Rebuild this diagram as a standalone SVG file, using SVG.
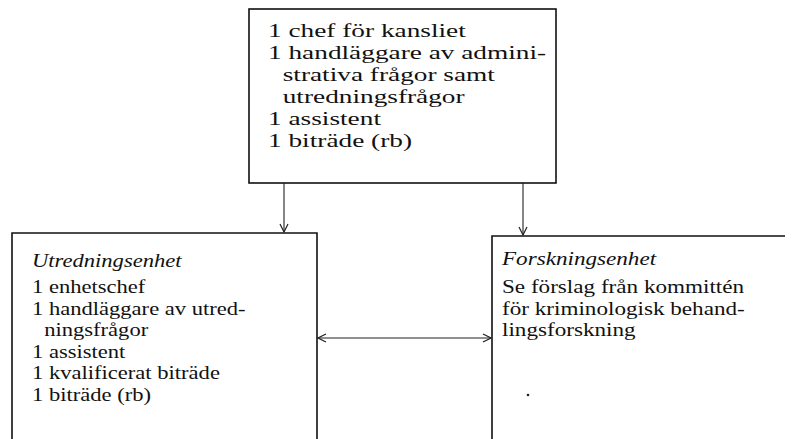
<svg xmlns="http://www.w3.org/2000/svg" width="794" height="439" viewBox="0 0 794 439">
<defs>
<style>
.box{fill:none;stroke:#111;stroke-width:1.6}
.con{fill:none;stroke:#222;stroke-width:1.1}
.t{font-family:"Liberation Serif","Times New Roman",serif;font-size:18.5px;fill:#111}
.tt{font-family:"Liberation Serif","Times New Roman",serif;font-size:19.5px;fill:#111}
.i{font-style:italic}
</style>
<marker id="ah" viewBox="0 0 10 10" refX="9" refY="5" markerWidth="10" markerHeight="10" markerUnits="userSpaceOnUse" orient="auto-start-reverse">
<path d="M1,1 L9,5 L1,9" fill="none" stroke="#222" stroke-width="1.2"/>
</marker>
</defs>
<rect width="794" height="439" fill="#fff"/>
<g id="kansli">
<rect class="box" x="249" y="9" width="307" height="174"/>
<g transform="translate(268 0) scale(1.4 1)">
<text class="tt" x="0" y="37">1 chef för kansliet</text>
<text class="tt" x="0" y="59">1 handläggare av admini-</text>
<text class="tt" x="10.5" y="81">strativa frågor samt</text>
<text class="tt" x="10.5" y="103">utredningsfrågor</text>
<text class="tt" x="0" y="125">1 assistent</text>
<text class="tt" x="0" y="147">1 biträde (rb)</text>
</g>
</g>
<g id="utredningsenhet">
<path class="box" d="M12,439 V233 H317 V439"/>
<g transform="translate(32 0) scale(1.22 1)">
<text class="t i" x="0" y="267">Utredningsenhet</text>
<text class="t" x="0" y="293">1 enhetschef</text>
<text class="t" x="0" y="315">1 handläggare av utred-</text>
<text class="t" x="10" y="336">ningsfrågor</text>
<text class="t" x="0" y="358">1 assistent</text>
<text class="t" x="0" y="379">1 kvalificerat biträde</text>
<text class="t" x="0" y="401">1 biträde (rb)</text>
</g>
</g>
<g id="forskningsenhet">
<path class="box" d="M492,439 V236 H785"/>
<g transform="translate(502 0) scale(1.25 1)">
<text class="t i" x="0" y="265">Forskningsenhet</text>
<text class="t" x="0" y="293">Se förslag från kommittén</text>
<text class="t" x="0" y="315">för kriminologisk behand-</text>
<text class="t" x="0" y="336">lingsforskning</text>
</g>
<circle cx="528" cy="395" r="1.3" fill="#222"/>
</g>
<g id="connectors">
<line class="con" x1="284" y1="183" x2="284" y2="232" marker-end="url(#ah)"/>
<line class="con" x1="523" y1="183" x2="523" y2="235" marker-end="url(#ah)"/>
<line class="con" x1="318" y1="338" x2="491" y2="338" marker-start="url(#ah)" marker-end="url(#ah)"/>
</g>
</svg>
